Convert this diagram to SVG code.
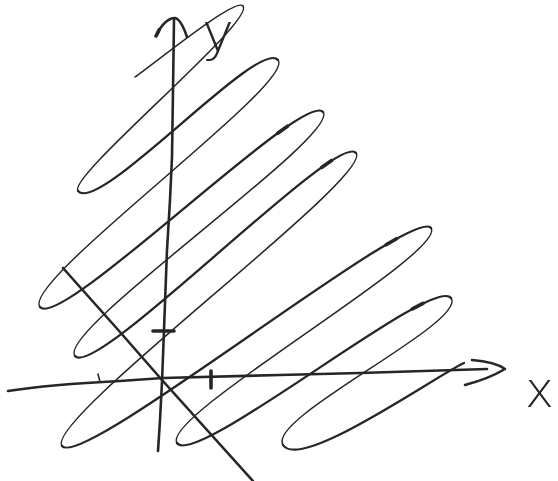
<svg xmlns="http://www.w3.org/2000/svg" width="558" height="481" viewBox="0 0 558 481">
<style>
  .ink{fill:none;stroke:#262626;stroke-linecap:round;stroke-linejoin:round}
  .up{stroke-width:2.3}
  .dn{stroke-width:1.5}
  .ax{stroke-width:2.6}
  .mk{stroke-width:3.6}
  .lbl{font-family:"DejaVu Sans","Open Sans",sans-serif;font-weight:200;fill:#262626}
</style>
<rect width="558" height="481" fill="#ffffff"/>
<g id="level-curves" class="ink">
  <path class="dn" d="M135,77 C150,67 235.2,-3.1 243,6"/>
  <path class="dn" d="M243,6 C256.1,21.1 66.2,177.4 78,191"/>
  <path class="up" d="M78,191 C98.9,215.2 258.9,36.9 278,60"/>
  <path class="dn" d="M278,60 C297.1,83.1 19.3,282.6 40,307"/>
  <path class="up" d="M40,307 C60.7,331.4 303.9,88.9 323,112"/>
  <path class="dn" d="M323,112 C342.1,135.1 54.4,331.6 75,356"/>
  <path class="up" d="M75,356 C95.6,380.4 336.6,130.1 356,153"/>
  <path class="dn" d="M356,153 C375.4,175.9 42.4,420.7 62,446"/>
  <path class="up" d="M62,446 C81.6,471.3 413.6,203.5 431,228"/>
  <path class="dn" d="M431,228 C448.4,252.5 159.1,416.5 177,443"/>
  <path class="up" d="M177,443 C194.9,469.5 434,273.3 451,298"/>
  <path class="dn" d="M451,298 C468,322.7 265.7,418.1 283,445"/>
  <path class="up" d="M283,445 C300.3,471.9 437,375 464,363"/>
</g>
<g id="direction-marks" class="ink mk">
  <line x1="277.7" y1="133.2" x2="287.5" y2="126.2"/>
  <line x1="321.6" y1="167.4" x2="331.6" y2="160.6"/>
  <line x1="386.1" y1="244.7" x2="396.5" y2="238.7"/>
  <line x1="412.4" y1="308.9" x2="423" y2="303.3"/>
</g>
<g id="y-axis" class="ink">
  <path class="ax" d="M158,451 L160,420 L162,382 L164,330 L167,250 L170,200 L172,157 L173,90 L174,19"/>
  <path class="ax" d="M157,35 C160,26 168,18 175,18 C180,19 184,28 187,37"/>
  <path class="mk" d="M156,36 L159,30"/>
  <path class="mk" d="M153,331 L174,331"/>
</g>
<g id="x-axis" class="ink">
  <path class="ax" d="M8,391 C40,386 80,383 120,381 L163,378 L280,375 L360,373 L487,369"/>
  <path class="ax" d="M472,360 C485,361 498,364 505,369 C495,375 480,381 465,385"/>
  <path class="dn" d="M98,374 L100,382"/>
  <path class="mk" d="M211,371 L211,388"/>
</g>
<g id="diagonal-line" class="ink">
  <path class="ax" d="M63,268 L120,332 L162,380 L253,481"/>
</g>
<g id="labels">
  <text class="lbl" x="202" y="51" font-size="54">y</text>
  <text class="lbl" x="525" y="407" font-size="49">x</text>
</g>
</svg>
